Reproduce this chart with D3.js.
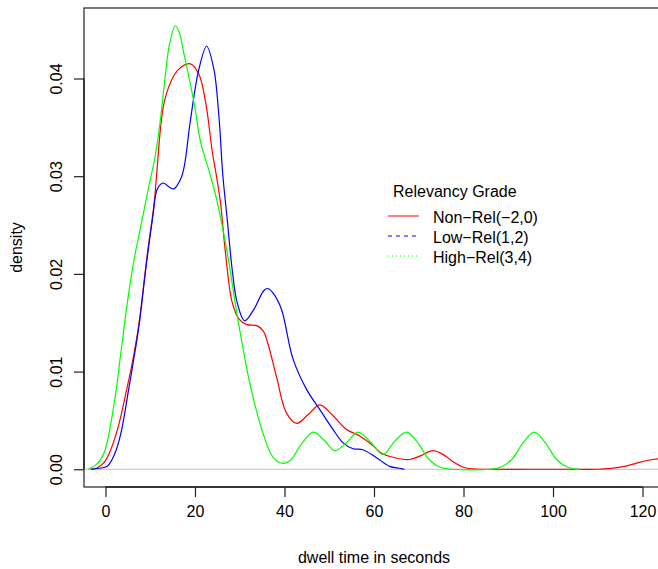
<!DOCTYPE html>
<html>
<head>
<meta charset="utf-8">
<script src="https://cdn.jsdelivr.net/npm/d3@7"></script>
<style>
  body { margin: 0; background: #fff; }
  text { font-family: "Liberation Sans", Arial, Helvetica, sans-serif; fill: #000; }
</style>
</head>
<body>
<div id="chart"></div>
<script>
// density curves (x = dwell time, d = density)
var nonRelX = [-3.3, -2, -0.3, 1, 2.7, 4.9, 6.4, 7.5, 9.4, 10.9, 11.4, 13.1, 15.3, 17, 19, 20.9, 22.4, 23.9, 24.8, 25.7, 26.8, 28.3, 29.8, 31.6, 33.8, 35.2, 36.2, 38.2, 40.4, 42.7, 45.3, 47.9, 50.8, 53.8, 56.8, 59.8, 61.5, 64.5, 67.9, 70.5, 73.1, 75.5, 77.6, 80, 82, 85, 95, 105, 110, 113, 116, 118.5, 121, 124];
var nonRelD = [0, 0.0001, 0.0007, 0.0018, 0.0041, 0.0085, 0.0119, 0.0150, 0.0222, 0.0273, 0.0300, 0.0375, 0.0403, 0.0412, 0.0415, 0.0404, 0.0375, 0.0324, 0.0300, 0.0273, 0.0222, 0.0171, 0.0154, 0.0148, 0.0147, 0.0142, 0.0130, 0.0095, 0.0058, 0.0047, 0.0056, 0.0066, 0.0055, 0.0041, 0.0034, 0.0024, 0.0017, 0.0012, 0.0010, 0.0014, 0.0019, 0.0015, 0.0008, 0.0002, 0.00003, 0, 0, 0, 0, 0.0001, 0.0003, 0.0006, 0.0009, 0.0011];

var lowRelX = [-3.3, -1.5, 0.4, 2, 3.4, 5.3, 6.8, 7.7, 9, 10.5, 11.6, 12.9, 14.2, 15.3, 16.8, 17.6, 19, 20.9, 22.6, 24.2, 25.4, 26.2, 27.2, 28.3, 29.4, 31.1, 33.2, 35.4, 36.3, 37.5, 39.3, 41.9, 44.9, 47.9, 50.8, 53.1, 55.3, 57.5, 60.5, 63.5, 65.7, 66.8];
var lowRelD = [0, 0.0001, 0.0003, 0.0015, 0.0036, 0.0085, 0.0126, 0.0154, 0.0205, 0.0256, 0.0287, 0.0293, 0.0289, 0.0287, 0.0297, 0.0310, 0.0358, 0.0410, 0.0433, 0.0410, 0.0358, 0.0302, 0.0256, 0.0205, 0.0171, 0.0152, 0.0164, 0.0183, 0.0185, 0.0180, 0.0164, 0.0113, 0.0082, 0.0061, 0.0041, 0.0027, 0.0021, 0.0020, 0.0012, 0.0003, 0.0001, 0];

var highRelX = [-3.9, -2, -0.3, 2, 3.4, 4.9, 6.4, 7.5, 8.6, 9.7, 11, 12.2, 13.1, 14.3, 15.6, 16.5, 17.5, 19.8, 21.3, 23.3, 25, 27.2, 29.6, 32.4, 35.4, 37.5, 39.7, 41.5, 43.5, 46.4, 48.8, 51.2, 53.8, 56.4, 59.2, 62, 64.7, 67.3, 69.8, 72.3, 74.8, 77.3, 86, 88.3, 90.8, 93.3, 95.8, 98.3, 100.8, 103.3, 106];
var highRelD = [0, 0.0005, 0.0017, 0.0069, 0.0118, 0.0171, 0.0215, 0.0240, 0.0265, 0.0290, 0.0318, 0.0355, 0.0392, 0.0435, 0.0454, 0.0447, 0.0426, 0.0375, 0.0334, 0.0303, 0.0273, 0.0222, 0.0153, 0.0085, 0.0034, 0.0012, 0.0006, 0.0010, 0.0024, 0.0038, 0.0030, 0.0019, 0.0027, 0.0038, 0.0028, 0.0015, 0.0029, 0.0038, 0.0027, 0.0010, 0.0002, 0, 0, 0.0002, 0.0010, 0.0027, 0.0038, 0.0027, 0.0010, 0.0002, 0];

var xTicks = [0, 20, 40, 60, 80, 100, 120];
var yTicks = [0, 0.01, 0.02, 0.03, 0.04];
var legendTitle = "Relevancy Grade";
var legendLabels = ["Non\u2212Rel(\u22122,0)", "Low\u2212Rel(1,2)", "High\u2212Rel(3,4)"];

var svgWidth = 658;
var svgHeight = 569;

var margin = { top: 8, left: 84, right: 664, bottom: 487 };

var svg = d3.select("#chart")
  .append("svg")
  .attr("width", svgWidth)
  .attr("height", svgHeight);

// xlim = c(0,120), ylim = c(0, max) with R's 4% padding
var xScale = d3.scaleLinear()
  .domain([-4.8, 124.8])
  .range([margin.left, margin.right]);

var yMax = 0.0454;
var yScale = d3.scaleLinear()
  .domain([-0.04 * yMax, 1.04 * yMax])
  .range([margin.bottom, margin.top]);

// zero line
svg.append("line")
  .attr("x1", margin.left).attr("x2", svgWidth)
  .attr("y1", yScale(0)).attr("y2", yScale(0))
  .attr("stroke", "#bebebe")
  .attr("stroke-width", 1);

var line = d3.line()
  .x(d => xScale(d[0]))
  .y(d => yScale(d[1]))
  .curve(d3.curveCatmullRom.alpha(0.5));

var series = [
  { xs: nonRelX, ds: nonRelD, color: "#ff0000" },
  { xs: lowRelX, ds: lowRelD, color: "#0000ff" },
  { xs: highRelX, ds: highRelD, color: "#00ff00" }
];

series.forEach(function(s) {
  svg.append("path")
    .datum(d3.zip(s.xs, s.ds))
    .attr("d", line)
    .attr("fill", "none")
    .attr("stroke", s.color)
    .attr("stroke-width", 1.2);
});

// plot box
svg.append("rect")
  .attr("x", margin.left).attr("y", margin.top)
  .attr("width", margin.right - margin.left)
  .attr("height", margin.bottom - margin.top)
  .attr("fill", "none")
  .attr("stroke", "#333")
  .attr("stroke-width", 1.3);

// x axis
var bottomAxis = d3.axisBottom(xScale)
  .tickValues(xTicks)
  .tickSize(10)
  .tickPadding(9)
  .tickFormat(d3.format("d"));

var xAxis = svg.append("g")
  .attr("transform", `translate(0, ${margin.bottom})`)
  .call(bottomAxis);
xAxis.select(".domain").remove();
xAxis.append("line")
  .attr("x1", xScale(0)).attr("x2", xScale(120))
  .attr("stroke", "#222").attr("stroke-width", 1.5);

// y axis
var leftAxis = d3.axisLeft(yScale)
  .tickValues(yTicks)
  .tickSize(10)
  .tickFormat(d3.format(".2f"));

var yAxis = svg.append("g")
  .attr("transform", `translate(${margin.left}, 0)`)
  .call(leftAxis);
yAxis.select(".domain").remove();
yAxis.append("line")
  .attr("y1", yScale(0)).attr("y2", yScale(0.04))
  .attr("stroke", "#222").attr("stroke-width", 1.5);

svg.selectAll(".tick line").attr("stroke", "#222").attr("stroke-width", 1.2);
svg.selectAll(".tick text")
  .style("font-size", "16px")
  .style("font-family", "'Liberation Sans', Arial, sans-serif")
  .attr("fill", "#000");

yAxis.selectAll(".tick text")
  .attr("x", null).attr("dy", null)
  .attr("text-anchor", "middle")
  .attr("transform", "translate(-22, 0) rotate(-90)");

// axis titles
svg.append("text")
  .attr("x", (margin.left + margin.right) / 2)
  .attr("y", 563)
  .attr("text-anchor", "middle")
  .style("font-size", "16px")
  .text("dwell time in seconds");

svg.append("text")
  .attr("transform", `translate(22, ${(margin.top + margin.bottom) / 2}) rotate(-90)`)
  .attr("text-anchor", "middle")
  .style("font-size", "16px")
  .text("density");

// legend
svg.append("text")
  .attr("x", 393)
  .attr("y", 197)
  .style("font-size", "16px")
  .text(legendTitle);

var dashes = [null, "4,4", "1,3"];
legendLabels.forEach(function(lbl, i) {
  var yy = 216 + i * 20;
  svg.append("line")
    .attr("x1", 388).attr("x2", 419)
    .attr("y1", yy).attr("y2", yy)
    .attr("stroke", series[i].color)
    .attr("stroke-width", 1)
    .attr("stroke-dasharray", dashes[i]);
  svg.append("text")
    .attr("x", 433)
    .attr("y", yy + 7)
    .style("font-size", "16px")
    .text(lbl);
});
</script>
</body>
</html>
